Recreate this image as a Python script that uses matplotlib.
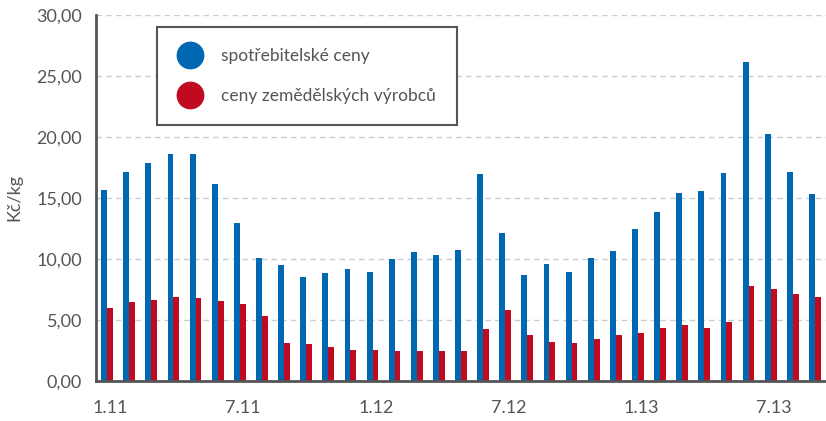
import matplotlib.pyplot as plt
import numpy as np
from matplotlib.lines import Line2D

MONTHS = [
    "1.11", "2.11", "3.11", "4.11", "5.11", "6.11", "7.11", "8.11", "9.11",
    "10.11", "11.11", "12.11", "1.12", "2.12", "3.12", "4.12", "5.12", "6.12",
    "7.12", "8.12", "9.12", "10.12", "11.12", "12.12", "1.13", "2.13", "3.13",
    "4.13", "5.13", "6.13", "7.13", "8.13", "9.13",
]

# spotrebitelske ceny (Kc/kg)
consumer = [
    15.66, 17.13, 17.84, 18.61, 18.61, 16.15, 12.92, 10.08, 9.51, 8.50, 8.83,
    9.18, 8.93, 10.00, 10.55, 10.30, 10.77, 16.94, 12.13, 8.72, 9.62, 8.93,
    10.08, 10.66, 12.46, 13.85, 15.44, 15.55, 17.02, 26.15, 20.22, 17.13, 15.33,
]

# ceny zemedelskych vyrobcu (Kc/kg)
producer = [
    5.98, 6.45, 6.64, 6.89, 6.78, 6.56, 6.31, 5.30, 3.11, 3.01, 2.79, 2.54,
    2.54, 2.46, 2.46, 2.46, 2.46, 4.23, 5.85, 3.80, 3.22, 3.11, 3.44, 3.80,
    3.91, 4.34, 4.59, 4.34, 4.81, 7.79, 7.54, 7.10, 6.89,
]

SERIES_LABELS = ["spotřebitelské ceny", "ceny zemědělských výrobců"]
Y_TICKS = [0, 5, 10, 15, 20, 25, 30]

BLUE = "#0067b1"
RED = "#c10a20"
TEXT = "#555555"
AXIS = "#555555"

plt.rcParams["font.family"] = ["Lato", "DejaVu Sans"]

fig = plt.figure(figsize=(8.26, 4.21), dpi=100)
ax = fig.add_axes([0.1162, 0.095, 0.8838, 0.8694])

x = np.arange(len(MONTHS))
w = 0.265
ax.bar(x - w / 2, consumer, width=w, color=BLUE, zorder=3)
ax.bar(x + w / 2, producer, width=w, color=RED, zorder=3)

ax.set_xlim(-0.5, len(MONTHS) - 0.5)
ax.set_ylim(0, 30)

ax.set_yticks(Y_TICKS)
ax.set_yticklabels([f"{v:.2f}".replace(".", ",") for v in Y_TICKS])
ax.tick_params(axis="y", length=0, pad=10, labelsize=13, labelcolor=TEXT)

ax.set_xticks(x[::6] + 0.15)
ax.set_xticklabels(MONTHS[::6])
ax.tick_params(axis="x", length=0, pad=14, labelsize=13, labelcolor=TEXT)

ax.grid(True, axis="y", linestyle=(0, (4, 3)), color="#cccccc", linewidth=1, zorder=0)

for side in ["top", "right"]:
    ax.spines[side].set_visible(False)
for side in ["left", "bottom"]:
    ax.spines[side].set_color(AXIS)
    ax.spines[side].set_linewidth(2)
    ax.spines[side].set_zorder(4)

ax.set_ylabel("Kč/kg", fontsize=13, color=TEXT, labelpad=10)

handles = [
    Line2D([], [], linestyle="none", marker="o", markersize=19,
           markerfacecolor=c, markeredgecolor=c)
    for c in [BLUE, RED]
]
leg = ax.legend(
    handles, SERIES_LABELS,
    loc="upper left", bbox_to_anchor=(0.0836, 0.967), borderaxespad=0,
    fontsize=12.5, labelcolor=TEXT, fancybox=False, framealpha=1,
    edgecolor=AXIS, borderpad=1.2, labelspacing=1.4, handletextpad=1.05,
    handlelength=1.45,
)
leg.get_frame().set_linewidth(1.5)

plt.savefig("out.png", dpi=100)
